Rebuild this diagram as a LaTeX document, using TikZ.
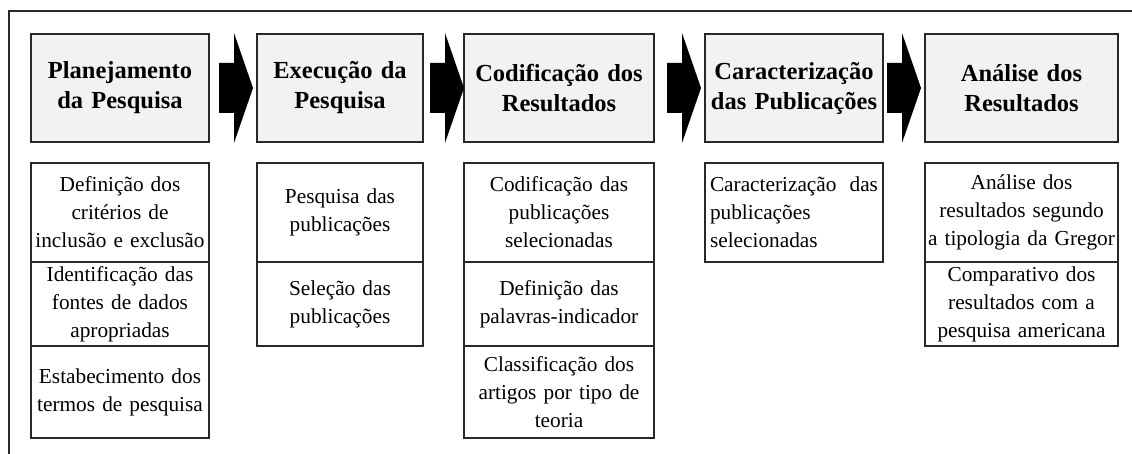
\documentclass[tikz,border=0pt]{standalone}
\usepackage{fontspec}
\setmainfont{Liberation Serif}
\usepackage{tikz}
\usetikzlibrary{positioning}

\definecolor{headgray}{RGB}{242,242,242}
\definecolor{linegray}{RGB}{40,40,40}

\begin{document}
\begin{tikzpicture}[x=1pt, y=1pt,
        box/.style={draw=linegray, line width=1.3pt, outer sep=0pt, inner xsep=0pt, inner ysep=1pt, align=center, anchor=north west},
        head/.style={box, fill=headgray, minimum height=108pt, font=\fontsize{24.5}{30}\selectfont\bfseries},
        item/.style={box, font=\fontsize{21.3}{28}\selectfont}]
        \useasboundingbox (0,0) rectangle (1132,-454);
        
        % frame
        \draw[linegray, line width=1.2pt] (9,-454) -- (9,-11) -- (1132,-11);
        
        % step headers
        \node[head, text width=178pt] (plan) at (31,-34) {Planejamento\\da Pesquisa};
        \node[head, text width=166pt] (exec) at (257,-34) {Execução da\\Pesquisa};
        \node[head, text width=190pt] (cod) at (464,-34) {Codificação dos\\Resultados};
        \node[head, text width=178pt] (carac) at (705,-34) {Caracterização\\das Publicações};
        \node[head, text width=193pt] (anal) at (925,-34) {Análise dos\\Resultados};
        
        % arrows between steps
        \foreach \x in {219, 430, 667, 887}
            \fill[black] (\x,-63) -- ++(15,0) -- ++(0,30) -- ++(19,-55) -- ++(-19,-55) -- ++(0,30) -- ++(-15,0) -- cycle;
        
        % planejamento
        \node[item, text width=178pt, minimum height=99pt] (plan1) at (31,-163) {Definição dos\\critérios de\\inclusão e exclusão};
        \node[item, text width=178pt, minimum height=84pt, below=0pt of plan1] (plan2) {Identificação das\\fontes de dados\\apropriadas};
        \node[item, text width=178pt, minimum height=92pt, below=0pt of plan2] (plan3) {Estabecimento dos\\termos de pesquisa};
        
        % execucao
        \node[item, text width=166pt, minimum height=99pt] (exec1) at (257,-163) {Pesquisa das\\publicações};
        \node[item, text width=166pt, minimum height=84pt, below=0pt of exec1] (exec2) {Seleção das\\publicações};
        
        % codificacao
        \node[item, text width=190pt, minimum height=99pt] (cod1) at (464,-163) {Codificação das\\publicações\\selecionadas};
        \node[item, text width=190pt, minimum height=84pt, below=0pt of cod1] (cod2) {Definição das\\palavras-indicador};
        \node[item, text width=190pt, minimum height=92pt, below=0pt of cod2] (cod3) {Classificação dos\\artigos por tipo de\\teoria};
        
        % caracterizacao
        \node[item, text width=168pt, inner xsep=5pt, align=left, minimum height=99pt] (carac1) at (705,-163) {Caracterização\hfill das\\publicações\\selecionadas};
        
        % analise
        \node[item, text width=193pt, minimum height=99pt] (anal1) at (925,-163) {Análise dos\\resultados segundo\\a tipologia da Gregor};
        \node[item, text width=193pt, minimum height=84pt, below=0pt of anal1] (anal2) {Comparativo dos\\resultados com a\\pesquisa americana};
        
\end{tikzpicture}
\end{document}
